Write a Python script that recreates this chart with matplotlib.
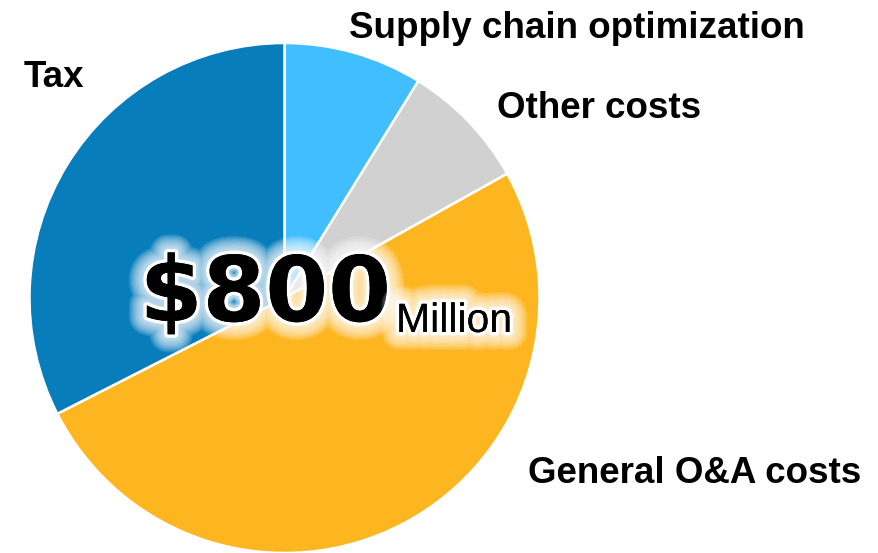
import matplotlib.pyplot as plt
import matplotlib.patheffects as pe

# Cost breakdown (share of $800 million)
categories = ['Supply chain optimization', 'Other costs', 'General O&A costs', 'Tax']
shares = [8.8, 8.1, 50.6, 32.5]
colors = ['#41BEFE', '#D1D1D1', '#FDB620', '#077DBB']
total_label = '$800'
unit_label = 'Million'

plt.rcParams['font.family'] = ['Liberation Sans', 'DejaVu Sans']

fig = plt.figure(figsize=(8.79, 5.53), dpi=100)
ax = fig.add_axes([0, 0, 1, 1])

ax.pie(shares, colors=colors, startangle=90, counterclock=False,
       center=(284.5, 255), radius=255,
       wedgeprops=dict(edgecolor='white', linewidth=1.8))
ax.set_xlim(0, 879)
ax.set_ylim(0, 553)
ax.set_aspect('equal')
ax.axis('off')

# slice labels placed outside the pie (baseline positions)
label_pos = [(349, 515), (497, 435), (528, 70), (24, 466)]
for name, (x, y) in zip(categories, label_pos):
    ax.text(x, y, name, fontsize=26.5, fontweight='bold', color='black',
            ha='left', va='baseline')

# soft white glow behind the big number
glow = [pe.withStroke(linewidth=w, foreground='white', alpha=0.12)
        for w in range(26, 6, -2)]
glow += [pe.withStroke(linewidth=5, foreground='white'), pe.Normal()]
ax.text(391, 232, total_label, family='DejaVu Sans', fontsize=65,
        fontweight='bold', color='black', ha='right', va='baseline',
        path_effects=glow)
ax.text(396, 221, unit_label, fontsize=29.5, color='black',
        ha='left', va='baseline', path_effects=glow)

fig.savefig('out.png', dpi=100)
